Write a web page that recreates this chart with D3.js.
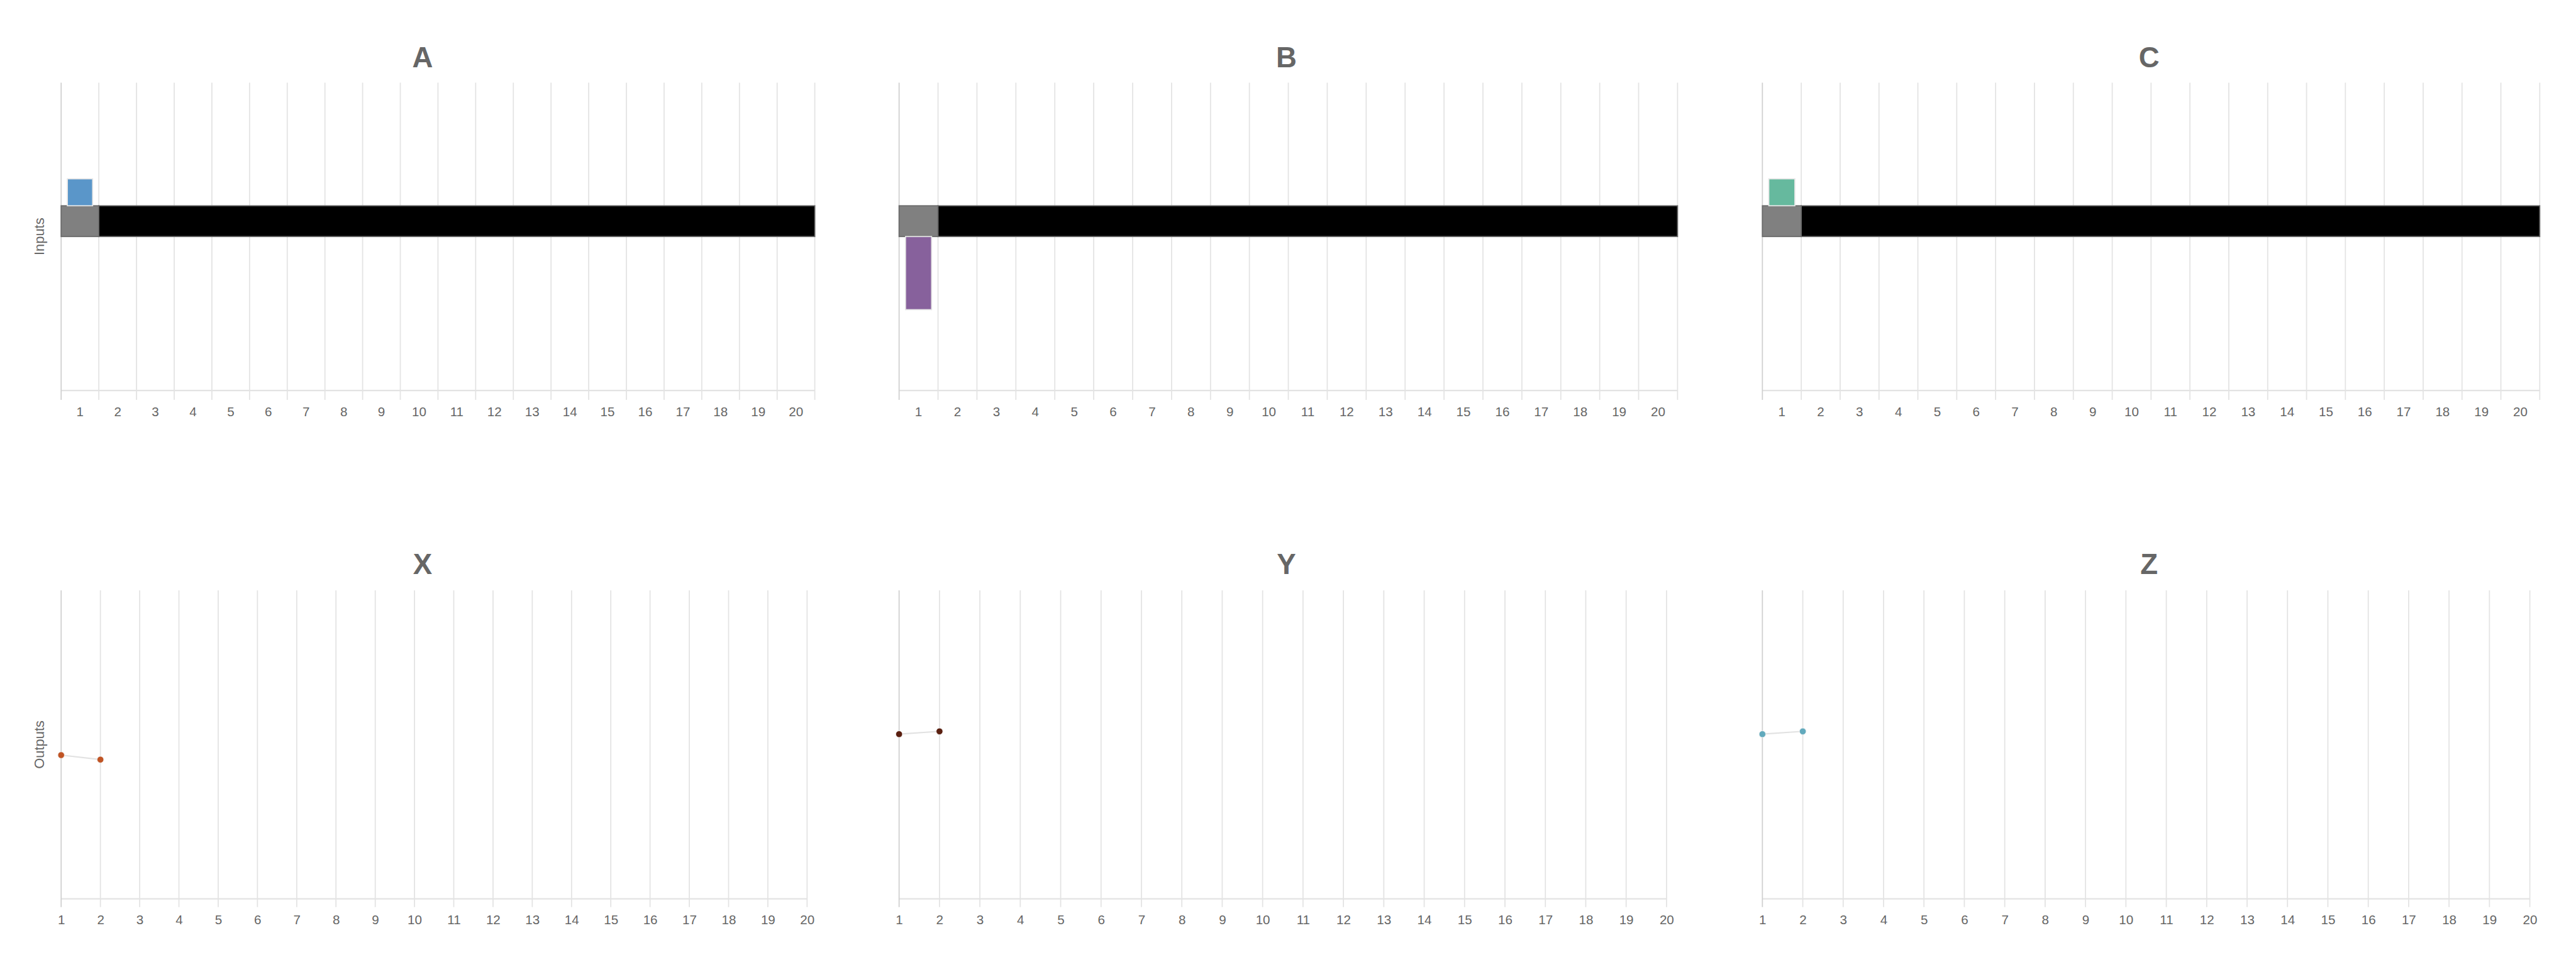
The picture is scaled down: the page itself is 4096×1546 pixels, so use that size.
<!DOCTYPE html>
<html>
<head>
<meta charset="utf-8">
<script src="https://cdn.jsdelivr.net/npm/d3@7"></script>
<style>
  html, body { margin: 0; padding: 0; background: #fff; }
  svg { display: block; }
  text { font-family: "Liberation Sans", Arial, Helvetica, sans-serif; }
</style>
</head>
<body>
<svg id="chart" width="4096" height="1546"></svg>
<script>
// ---------- data ----------
const steps = ["1","2","3","4","5","6","7","8","9","10","11","12","13","14","15","16","17","18","19","20"];
const inputNames = ["A", "B", "C"];
const outputNames = ["X", "Y", "Z"];
const inputStep = ["1", "1", "1"];
const inputValues = [0.175, -0.475, 0.175];
const trackValue = 0.2;
const currentStep = "1";
const outputStepsX = ["1", "2"];
const outputValuesX = [-0.068, -0.097];
const outputValuesY = [0.068, 0.086];
const outputValuesZ = [0.068, 0.086];
const outputSeries = [outputValuesX, outputValuesY, outputValuesZ];
const inputColors = ["#5a96c9", "#87619c", "#66b99e"];
const outputColors = ["#c05424", "#5a1f10", "#62aabd"];
const yDomain = [-1, 1];
const rowLabels = ["Inputs", "Outputs"];

// ---------- layout (reference pixel units, scaled down) ----------
const S = 0.876;
const inRanges = [[111, 1479], [1632, 3045], [3199, 4610]];
const outRanges = [[111, 1465], [1632, 3025], [3199, 4592]];
const titleXs = [767, 2335, 3901];
const inTop = 150, inBottom = 709, inTitleY = 122;
const outTop = 1072, outBottom = 1632, outTitleY = 1042;
const tickExt = 17;
const gridColor = "#e3e3e3", leftAxisColor = "#cfcfcf", textColor = "#666";

const svg = d3.select("#chart");
const root = svg.append("g").attr("transform", `scale(${S})`);

// ---------- input panels ----------
inputNames.forEach((name, i) => {
  const [x0, x1] = inRanges[i];
  const g = root.append("g");
  const x = d3.scaleBand().domain(steps).range([x0, x1]);
  const xBar = d3.scaleBand().domain(steps).range([x0, x1]).paddingInner(0.33).paddingOuter(0.165);
  const y = d3.scaleLinear().domain(yDomain).range([inBottom, inTop]);

  // grid lines at band boundaries (extend as ticks below the axis)
  const bounds = steps.map(s => x(s)).concat([x1]);
  g.append("g").selectAll("line").data(bounds.slice(1)).join("line")
    .attr("x1", d => d).attr("x2", d => d)
    .attr("y1", inTop).attr("y2", inBottom + tickExt)
    .attr("stroke", gridColor).attr("stroke-width", 2);
  // bottom axis line
  g.append("line").attr("x1", x0).attr("x2", x1).attr("y1", inBottom).attr("y2", inBottom)
    .attr("stroke", gridColor).attr("stroke-width", 2.5);
  // left axis line
  g.append("line").attr("x1", x0).attr("x2", x0).attr("y1", inTop).attr("y2", inBottom + tickExt)
    .attr("stroke", leftAxisColor).attr("stroke-width", 2);

  // tick labels
  const ax = g.append("g").attr("transform", `translate(0,${inBottom})`)
    .call(d3.axisBottom(x).tickSize(0).tickPadding(30));
  ax.select(".domain").remove();
  ax.selectAll("text").attr("fill", textColor).style("font-size", "23.5px")
    .style("font-family", '"Liberation Sans", Arial, sans-serif');

  // track: current step grey, remaining steps black
  g.append("rect")
    .attr("x", x(currentStep)).attr("width", x.bandwidth())
    .attr("y", y(trackValue)).attr("height", y(0) - y(trackValue))
    .attr("fill", "#808080").attr("stroke", "#6a6a6a").attr("stroke-width", 2);
  const restStart = x(steps[steps.indexOf(currentStep) + 1]);
  g.append("rect")
    .attr("x", restStart).attr("width", x1 - restStart)
    .attr("y", y(trackValue)).attr("height", y(0) - y(trackValue))
    .attr("fill", "#000").attr("stroke", "#6a6a6a").attr("stroke-width", 2);

  // input bar
  const v = inputValues[i];
  const base = v >= 0 ? trackValue : 0;
  const top = v >= 0 ? trackValue + v : 0;
  const bot = v >= 0 ? trackValue : v;
  g.append("rect")
    .attr("x", xBar(inputStep[i])).attr("width", xBar.bandwidth())
    .attr("y", y(top)).attr("height", y(bot) - y(top))
    .attr("fill", inputColors[i]).attr("stroke", "#e6e6e6").attr("stroke-width", 2);

  // title
  g.append("text").attr("x", titleXs[i]).attr("y", inTitleY)
    .attr("text-anchor", "middle").attr("fill", textColor)
    .style("font-size", "52px").style("font-weight", "bold").text(name);

  if (i === 0) {
    g.append("text")
      .attr("transform", `translate(80,${(inTop + inBottom) / 2}) rotate(-90)`)
      .attr("text-anchor", "middle").attr("fill", textColor)
      .style("font-size", "25px").text(rowLabels[0]);
  }
});

// ---------- output panels ----------
outputNames.forEach((name, i) => {
  const [x0, x1] = outRanges[i];
  const g = root.append("g");
  const x = d3.scalePoint().domain(steps).range([x0, x1]);
  const y = d3.scaleLinear().domain(yDomain).range([outBottom, outTop]);

  g.append("g").selectAll("line").data(steps.slice(1)).join("line")
    .attr("x1", d => x(d)).attr("x2", d => x(d))
    .attr("y1", outTop).attr("y2", outBottom + tickExt - 2)
    .attr("stroke", gridColor).attr("stroke-width", 2);
  g.append("line").attr("x1", x0).attr("x2", x1).attr("y1", outBottom).attr("y2", outBottom)
    .attr("stroke", gridColor).attr("stroke-width", 2.5);
  g.append("line").attr("x1", x0).attr("x2", x0).attr("y1", outTop).attr("y2", outBottom + tickExt - 2)
    .attr("stroke", leftAxisColor).attr("stroke-width", 2);

  const ax = g.append("g").attr("transform", `translate(0,${outBottom})`)
    .call(d3.axisBottom(x).tickSize(0).tickPadding(29));
  ax.select(".domain").remove();
  ax.selectAll("text").attr("fill", textColor).style("font-size", "23.5px")
    .style("font-family", '"Liberation Sans", Arial, sans-serif');

  const pts = outputSeries[i].map((v, k) => ({ s: outputStepsX[k], v }));
  const line = d3.line().x(d => x(d.s)).y(d => y(d.v));
  g.append("path").datum(pts).attr("d", line)
    .attr("fill", "none").attr("stroke", "#e2e2e2").attr("stroke-width", 2.5);
  g.append("g").selectAll("circle").data(pts).join("circle")
    .attr("cx", d => x(d.s)).attr("cy", d => y(d.v)).attr("r", 6)
    .attr("fill", outputColors[i]).attr("stroke", "#f0f0f0").attr("stroke-width", 1);

  g.append("text").attr("x", titleXs[i]).attr("y", outTitleY)
    .attr("text-anchor", "middle").attr("fill", textColor)
    .style("font-size", "52px").style("font-weight", "bold").text(name);

  if (i === 0) {
    g.append("text")
      .attr("transform", `translate(80,${(outTop + outBottom) / 2}) rotate(-90)`)
      .attr("text-anchor", "middle").attr("fill", textColor)
      .style("font-size", "25px").text(rowLabels[1]);
  }
});
</script>
</body>
</html>
